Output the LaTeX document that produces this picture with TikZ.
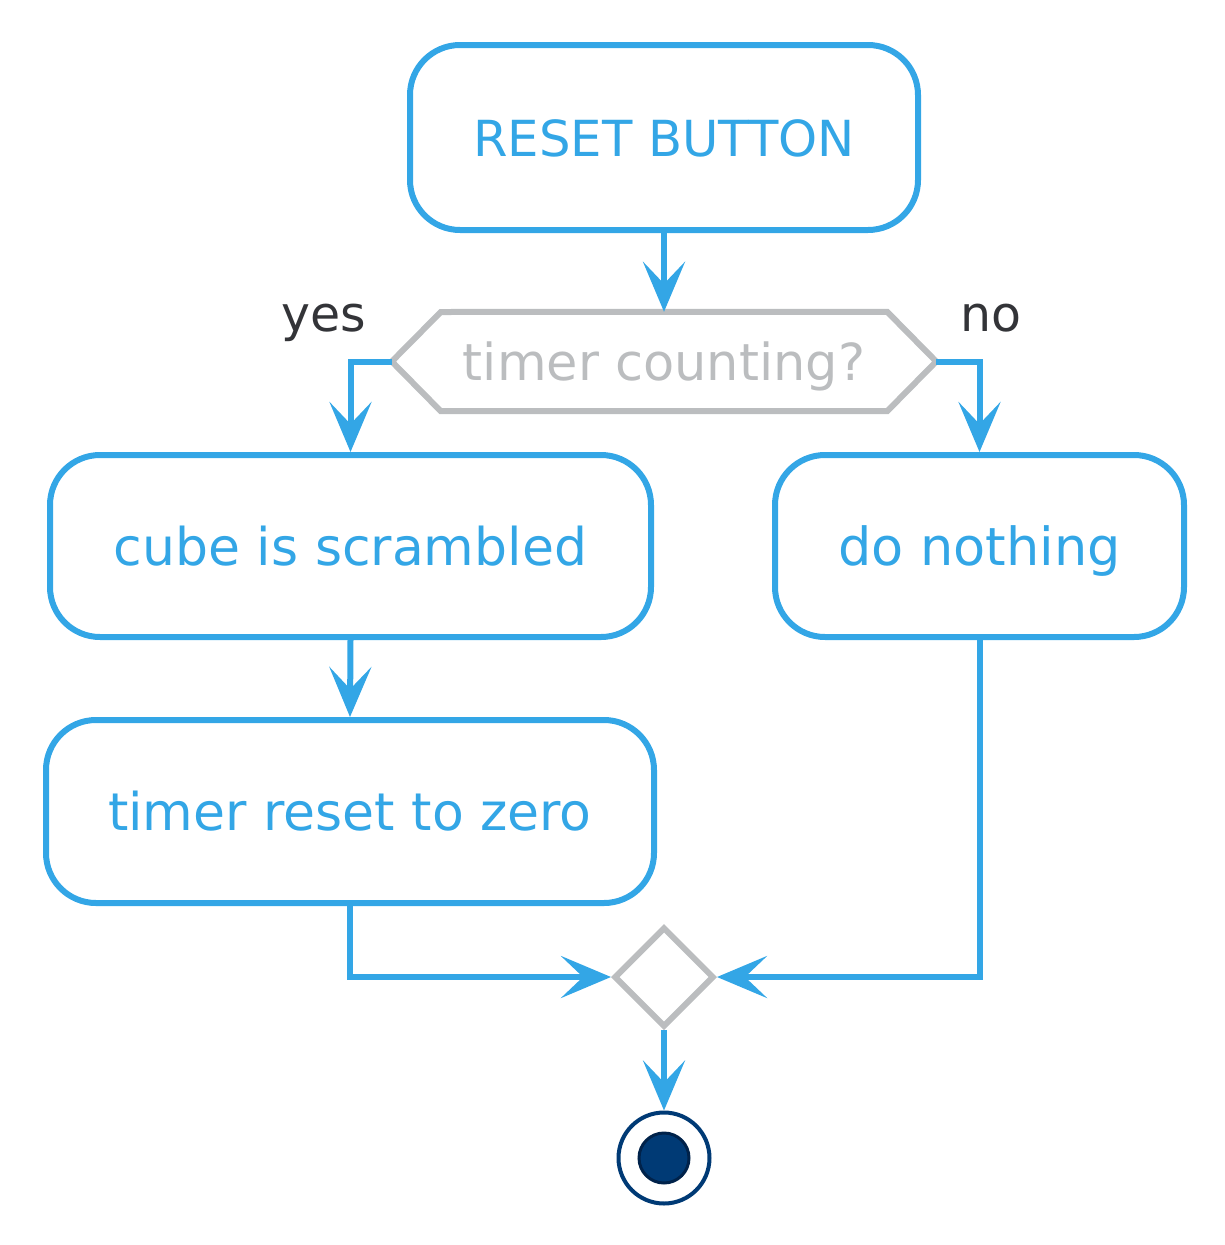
\documentclass[tikz,border=0pt]{standalone}
\usepackage{fontspec}
\setmainfont{DejaVu Sans}
\usetikzlibrary{arrows.meta,shapes.geometric}
\definecolor{ablue}{HTML}{33A6E6}
\definecolor{agray}{HTML}{BBBDBF}
\definecolor{adark}{HTML}{333438}
\definecolor{endblue}{HTML}{003A75}
\definecolor{enddark}{HTML}{00224A}
\tikzset{
  actbox/.style={draw=ablue, line width=6pt, rounded corners=50pt, text=ablue,
    inner sep=0pt, text height=50pt, text depth=12pt},
  flow/.style={draw=ablue, line width=6pt, line join=miter, -{Stealth[length=50pt,width=42pt,inset=22pt]}},
  lbl/.style={text=adark, inner sep=0pt, font=\fontsize{49}{58}\selectfont},
}
\begin{document}
\begin{tikzpicture}[x=1pt,y=-1pt]
\useasboundingbox (0,0) rectangle (1225,1245);
\node[actbox, minimum width=508pt, minimum height=185pt, font=\fontsize{49.7}{58}\selectfont] (reset) at (664,137.5) {RESET BUTTON};
\node[inner sep=0pt, minimum width=544pt, minimum height=99pt, text=agray,
  text height=50pt, text depth=12pt,
  font=\fontsize{51}{58}\selectfont] (dec) at (664,361.5) {timer counting?};
\draw[agray, line width=6pt, line join=miter]
  (dec.west) -- ++(49,-49.5) -- ([xshift=-49pt]dec.north east) -- (dec.east)
  -- ([xshift=-49pt]dec.south east) -- ([xshift=49pt]dec.south west) -- cycle;
\node[actbox, minimum width=601pt, minimum height=182pt, font=\fontsize{52}{58}\selectfont] (cube) at (350.5,546) {cube is scrambled};
\node[actbox, minimum width=409pt, minimum height=182pt, font=\fontsize{52.5}{58}\selectfont] (nothing) at (979.5,546) {do nothing};
\node[actbox, minimum width=608pt, minimum height=183pt, font=\fontsize{52}{58}\selectfont] (zero) at (350,811.5) {timer reset to zero};
\node[diamond, draw=agray, line width=6pt, inner sep=0pt, minimum width=100pt, minimum height=100pt] (merge) at (664,977) {};
\node[circle, draw=endblue, line width=4pt, inner sep=0pt, minimum size=91pt] (end) at (664,1158) {};
\node[circle, fill=endblue, draw=enddark, line width=3pt, inner sep=0pt, minimum size=50pt] (endin) at (end.center) {};
\node[lbl, anchor=base east] (yes) at (366,331) {yes};
\node[lbl, anchor=base west] (no) at (960,331) {no};
\draw[flow] (reset.south) -- (dec.north);
\draw[flow] (dec.west) -| (cube.north);
\draw[flow] (dec.east) -| (nothing.north);
\draw[flow] (cube.south) -- (zero.north);
\draw[flow] (zero.south) |- (merge.west);
\draw[flow] (nothing.south) |- (merge.east);
\draw[flow] (merge.south) -- (end.north);
\end{tikzpicture}
\end{document}
